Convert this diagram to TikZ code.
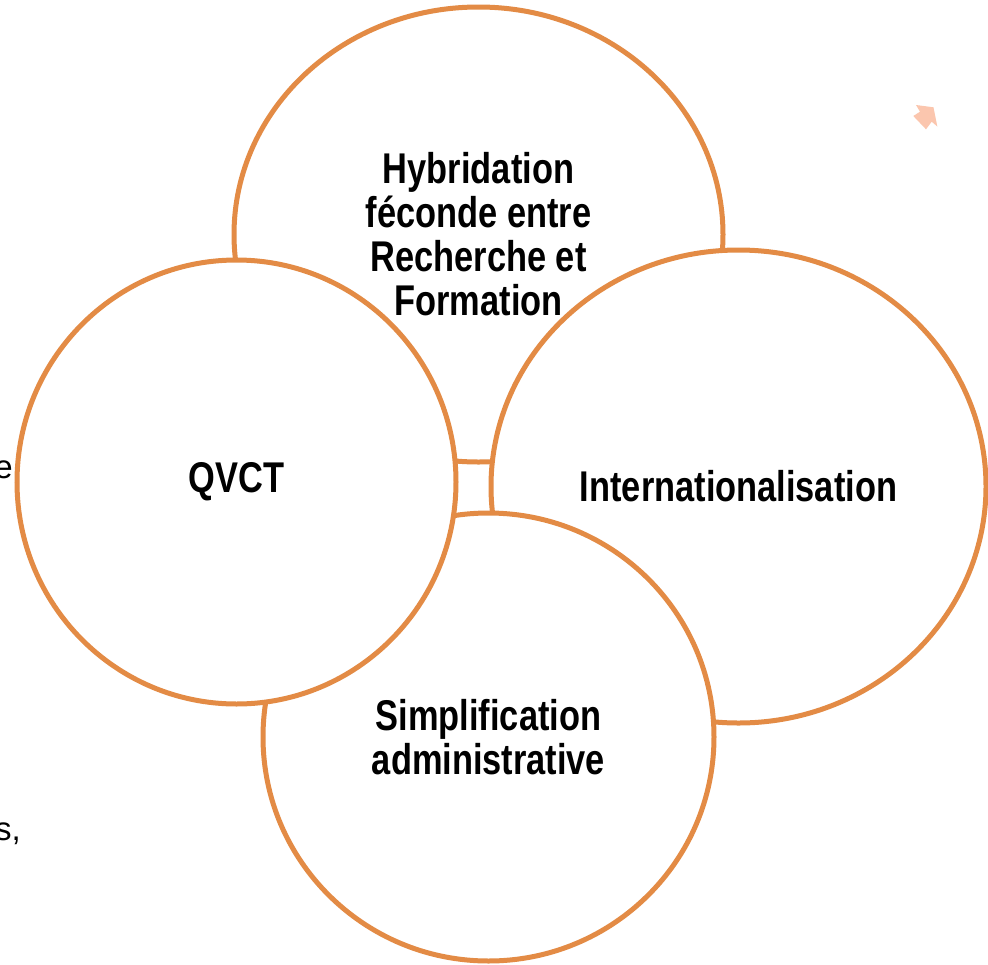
\documentclass[tikz,border=0pt]{standalone}
\usepackage{fontspec}
\setmainfont{Liberation Sans}
\newfontfamily\labelfont{Liberation Sans}[FakeStretch=0.8]
\usetikzlibrary{shapes.geometric}
\definecolor{ringorange}{HTML}{E38B45}
\definecolor{salmon}{HTML}{FBC6AE}
\tikzset{
  ring/.style={ellipse, draw=ringorange, line width=5pt, fill=white, inner sep=0pt,
    align=center, font=\labelfont\bfseries\fontsize{43}{44}\selectfont},
  stray/.style={inner sep=0pt, font=\fontsize{33}{38}\selectfont}
}
\begin{document}
\begin{tikzpicture}[x=1pt,y=-1pt]
\useasboundingbox[fill=white] (0,0) rectangle (988,964);
% stray text fragments at the left edge
\node[stray, anchor=base east] (fe) at (13,478) {e};
\node[stray, anchor=base east] (fs) at (21,840) {s,};
% small arrow shape
\fill[salmon] (916,105) -- (933.5,107.3) -- (937.3,126.5) -- (931.7,121.7)
  -- (926,129.3) -- (913.3,116) -- (920,111.7) -- cycle;
% circles, in stacking order
\node[ring, minimum width=489pt, minimum height=455pt] (top) at (478.5,234.5)
  {Hybridation\\féconde entre\\Recherche et\\Formation};
\node[ring, minimum width=495pt, minimum height=473pt] (right) at (738.5,486.5)
  {Internationalisation};
\node[ring, minimum width=451pt, minimum height=448pt] (bottom) at (488.5,737)
  {Simplification\\administrative};
\node[ring, minimum width=439pt, minimum height=444pt] (left) at (236.5,482)
  {\raisebox{-3pt}{QVCT}};
\end{tikzpicture}
\end{document}
